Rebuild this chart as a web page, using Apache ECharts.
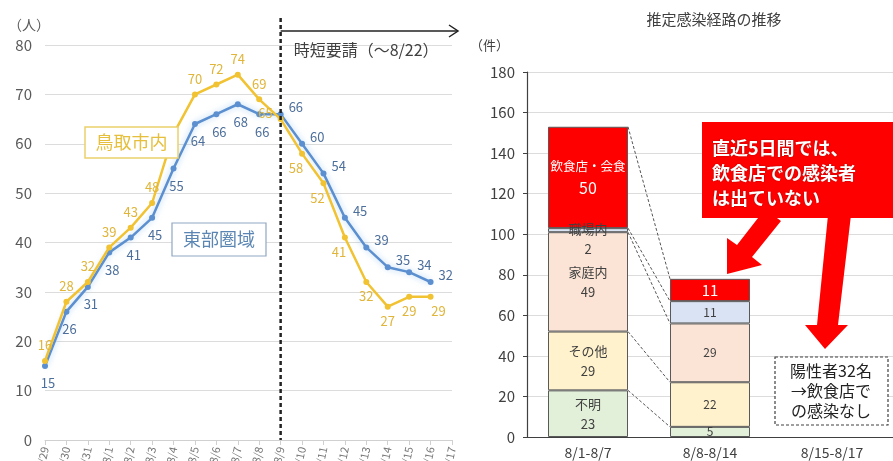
<!DOCTYPE html>
<html><head><meta charset="utf-8">
<script src="https://cdn.jsdelivr.net/npm/echarts@6/dist/echarts.min.js"></script>
<style>html,body{margin:0;padding:0;background:#fff}#c{width:893px;height:461px}</style>
</head><body><div id="c"></div>
<script>
// ---- data ----
const dates = ['7/29','7/30','7/31','8/1','8/2','8/3','8/4','8/5','8/6','8/7','8/8','8/9','8/10','8/11','8/12','8/13','8/14','8/15','8/16','8/17'];
const tottoriCity = [16,28,32,39,43,48,62,70,72,74,69,65,58,52,41,32,27,29,29];
const eastArea    = [15,26,31,38,41,45,55,64,66,68,66,66,60,54,45,39,35,34,32];
const requestStart = '8/9';
const periods = ['8/1-8/7','8/8-8/14','8/15-8/17'];
const routeNames = ['不明','その他','家庭内','職場内','飲食店・会食'];
const unknownCases   = [23, 5, null];
const otherCases     = [29, 22, null];
const householdCases = [49, 29, null];
const workplaceCases = [2, 11, null];
const restaurantCases= [50, 11, null];

const FONT = 'Noto Sans CJK JP';
const BAR_W = 80;
const chart = echarts.init(document.getElementById('c'));

const yellowLabel = (i) => {
  if (i === 6) return { show: false };
  if (i <= 10) return { position: 'top', distance: 6 };
  if (i === 11) return { position: 'left', offset: [0, -6] };
  if (i === tottoriCity.length - 1) return { position: 'bottom', distance: 5, offset: [8, 0] };
  if (i <= 14) return { position: 'bottom', distance: 5, offset: [-6, 0] };
  return { position: 'bottom', distance: 5 };
};
const blueLabel = (i) => {
  if (i <= 10) return { position: 'bottom', distance: 8, offset: [3, 0] };
  return { position: 'right', distance: 5, offset: [0, -7] };
};

const seriesList = [
  {
    name: '東部圏域', type: 'line', xAxisIndex: 0, yAxisIndex: 0,
    data: eastArea.map((v, i) => ({ value: v, label: blueLabel(i) })),
    symbol: 'circle', symbolSize: 6,
    lineStyle: { color: '#5b8fcf', width: 2.5, shadowColor: 'rgba(120,180,235,0.6)', shadowBlur: 6 },
    itemStyle: { color: '#5b8fcf' },
    label: { show: true, color: '#4d6f9c', fontSize: 13, fontFamily: FONT },
    z: 3
  },
  {
    name: '鳥取市内', type: 'line', xAxisIndex: 0, yAxisIndex: 0,
    data: tottoriCity.map((v, i) => ({ value: v, label: yellowLabel(i) })),
    symbol: 'circle', symbolSize: 6,
    lineStyle: { color: '#f1c232', width: 2.5 },
    itemStyle: { color: '#f1c232' },
    label: { show: true, color: '#e0b53a', fontSize: 13, fontFamily: FONT },
    z: 4
  }
];

const barSets = [unknownCases, otherCases, householdCases, workplaceCases, restaurantCases];
const barColors = ['#e2efd9', '#fff2cc', '#fbe4d5', '#dae3f3', '#ff0000'];
barSets.forEach((arr, k) => {
  const isRed = k === 4;
  seriesList.push({
    name: routeNames[k], type: 'bar', stack: 'route', xAxisIndex: 1, yAxisIndex: 1,
    barWidth: BAR_W,
    data: arr.map((v, i) => (k === 3 && i === 0) ? { value: v, label: { offset: [0, 9] } } : v),
    itemStyle: { color: barColors[k], borderColor: '#595959', borderWidth: 1 },
    label: {
      show: true, position: 'inside', fontFamily: FONT,
      formatter: (p) => p.value == null ? '' : (p.dataIndex === 0 ? `{n|${p.seriesName}}\n{v|${p.value}}` : `{w|${p.value}}`),
      rich: {
        n: { fontSize: isRed ? 12.5 : 13, color: isRed ? '#fff' : '#404040', fontFamily: FONT, lineHeight: 20 },
        v: { fontSize: isRed ? 16 : 13, color: isRed ? '#fff' : '#404040', fontFamily: FONT, lineHeight: isRed ? 22 : 20 },
        w: { fontSize: isRed ? 15 : 12, color: isRed ? '#fff' : '#404040', fontFamily: FONT }
      }
    },
    z: 2
  });
});

// dashed connectors between the two bars
seriesList.push({
  type: 'custom', xAxisIndex: 1, yAxisIndex: 1, data: [[0, 0]], silent: true, z: 5,
  renderItem: (params, api) => {
    const children = [];
    let a = 0, b = 0;
    for (let k = 0; k < barSets.length; k++) {
      a += barSets[k][0]; b += barSets[k][1];
      const p1 = api.coord([0, a]); const p2 = api.coord([1, b]);
      children.push({ type: 'line', shape: { x1: p1[0] + BAR_W / 2, y1: p1[1], x2: p2[0] - BAR_W / 2, y2: p2[1] },
        style: { stroke: '#555', lineWidth: 1, lineDash: [3, 2] } });
    }
    return { type: 'group', children };
  }
});

chart.setOption({
  animation: false,
  textStyle: { fontFamily: FONT },
  grid: [
    { left: 45, top: 45, width: 407, height: 395, outerBoundsMode: 'none', containLabel: false },
    { left: 527, top: 72, right: 0, height: 365, outerBoundsMode: 'none', containLabel: false }
  ],
  xAxis: [
    { gridIndex: 0, type: 'category', data: dates, boundaryGap: false,
      axisLine: { lineStyle: { color: '#d0d0d0' } }, axisTick: { show: true, lineStyle: { color: '#d0d0d0' } },
      axisLabel: { rotate: 78, interval: 0, fontSize: 11, color: '#777', margin: 7, fontFamily: FONT } },
    { gridIndex: 1, type: 'category', data: periods,
      axisLine: { lineStyle: { color: '#404040', width: 1.2 } }, axisTick: { show: false },
      axisLabel: { fontSize: 14, color: '#404040', margin: 9, fontFamily: FONT } }
  ],
  yAxis: [
    { gridIndex: 0, type: 'value', min: 0, max: 80, interval: 10,
      axisLine: { show: false }, axisTick: { show: false },
      splitLine: { lineStyle: { color: '#dcdcdc' } },
      axisLabel: { fontSize: 15, color: '#595959', margin: 13, fontFamily: FONT } },
    { gridIndex: 1, type: 'value', min: 0, max: 180, interval: 20,
      axisLine: { show: true, lineStyle: { color: '#404040', width: 1.2 } },
      axisTick: { show: true, length: 4, lineStyle: { color: '#404040' } },
      splitLine: { lineStyle: { color: '#dcdcdc' } },
      axisLabel: { fontSize: 15, color: '#404040', margin: 12, fontFamily: FONT } }
  ],
  series: seriesList
});

const vx = chart.convertToPixel({ xAxisIndex: 0 }, requestStart);
const vyBottom = chart.convertToPixel({ yAxisIndex: 0 }, 0);

chart.setOption({
  graphic: [
    { type: 'line', z: 50, shape: { x1: vx, y1: 18, x2: vx, y2: vyBottom }, style: { stroke: '#222', lineWidth: 2.5, lineDash: [4, 3] } },
    { type: 'line', z: 50, shape: { x1: vx, y1: 31, x2: 457, y2: 31 }, style: { stroke: '#222', lineWidth: 1.5 } },
    { type: 'polyline', z: 50, shape: { points: [[449, 25], [458, 31], [449, 37]] }, style: { stroke: '#222', lineWidth: 1.5, fill: null } },
    { type: 'text', z: 50, x: vx + 13, y: 50, style: { text: '時短要請（〜8/22）', font: '16px "Noto Sans CJK JP"', fill: '#404040', verticalAlign: 'middle' } },
    { type: 'text', z: 50, x: 8, y: 25, style: { text: '（人）', font: '14px "Noto Sans CJK JP"', fill: '#595959', verticalAlign: 'middle' } },
    { type: 'rect', z: 50, shape: { x: 85, y: 127, width: 93, height: 31 }, style: { fill: '#fff', stroke: '#ecd16a', lineWidth: 1.5 } },
    { type: 'text', z: 51, x: 131.5, y: 142.5, style: { text: '鳥取市内', font: '18px "Noto Sans CJK JP"', fill: '#e6bf3c', align: 'center', verticalAlign: 'middle' } },
    { type: 'rect', z: 50, shape: { x: 172, y: 223, width: 94, height: 33 }, style: { fill: '#fff', stroke: '#8fa8c4', lineWidth: 1.2 } },
    { type: 'text', z: 51, x: 219, y: 239.5, style: { text: '東部圏域', font: '18px "Noto Sans CJK JP"', fill: '#5b86b3', align: 'center', verticalAlign: 'middle' } },
    { type: 'text', z: 50, x: 714, y: 19, style: { text: '推定感染経路の推移', font: '15px "Noto Sans CJK JP"', fill: '#404040', align: 'center', verticalAlign: 'middle' } },
    { type: 'text', z: 50, x: 470, y: 45, style: { text: '（件）', font: '13px "Noto Sans CJK JP"', fill: '#404040', verticalAlign: 'middle' } },
    { type: 'polygon', z: 60, shape: { points: [[765, 209], [781, 221], [752, 257], [762, 265], [727, 274], [727, 238], [737, 245]] }, style: { fill: '#ff0000' } },
    { type: 'polygon', z: 60, shape: { points: [[828, 215], [851, 215], [838, 325], [848, 325], [825, 349], [805, 325], [817, 325]] }, style: { fill: '#ff0000' } },
    { type: 'rect', z: 61, shape: { x: 702, y: 122, width: 200, height: 96 }, style: { fill: '#ff0000' } },
    { type: 'text', z: 62, x: 712, y: 136, style: { text: '直近5日間では、\n飲食店での感染者\nは出ていない', font: 'bold 18px "Noto Sans CJK JP"', lineHeight: 25, fill: '#fff', textShadowColor: 'rgba(0,0,0,0.35)', textShadowBlur: 2 } },
    { type: 'rect', z: 60, shape: { x: 775, y: 357, width: 113, height: 68 }, style: { fill: '#fff', stroke: '#404040', lineWidth: 1.2, lineDash: [3, 2] } },
    { type: 'text', z: 61, x: 831, y: 391, style: { text: '陽性者32名\n→飲食店で\nの感染なし', font: '16px "Noto Sans CJK JP"', lineHeight: 20, fill: '#222', align: 'center', verticalAlign: 'middle' } }
  ]
});
</script></body></html>
